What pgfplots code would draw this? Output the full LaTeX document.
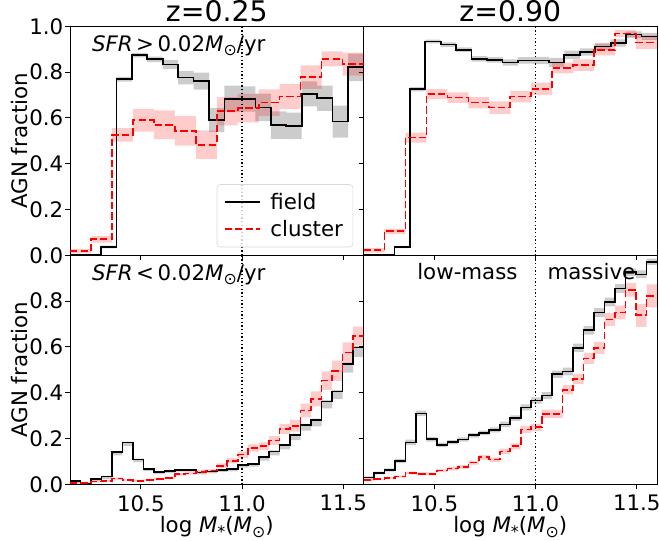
\documentclass[border=0pt]{standalone}
\usepackage{fontspec}
\setmainfont{DejaVu Sans}
\usepackage{pgfplots}
\usepackage{pgfplotstable}
\pgfplotsset{compat=1.18}
\usepgfplotslibrary{fillbetween}

% columns: left bin edge, value, lower error, upper error (last row closes the last bin)
\pgfplotstableread{
x y el eh
10.1500 0.000 0.003 0.003
10.2263 0.000 0.003 0.003
10.3026 0.036 0.006 0.006
10.3789 0.769 0.010 0.010
10.4553 0.874 0.010 0.010
10.5316 0.856 0.012 0.012
10.6079 0.834 0.020 0.020
10.6842 0.776 0.030 0.030
10.7605 0.761 0.037 0.037
10.8368 0.591 0.053 0.053
10.9132 0.683 0.058 0.058
10.9895 0.683 0.055 0.055
11.0658 0.646 0.060 0.060
11.1421 0.569 0.060 0.060
11.2184 0.565 0.058 0.058
11.2947 0.705 0.055 0.055
11.3711 0.686 0.055 0.055
11.4474 0.584 0.070 0.070
11.5237 0.821 0.060 0.060
11.6000 0.821 0.060 0.060
}\tlb
\pgfplotstableread{
x y el eh
10.1500 0.018 0.010 0.010
10.2536 0.070 0.015 0.015
10.3571 0.526 0.030 0.030
10.4607 0.590 0.050 0.050
10.5643 0.570 0.063 0.063
10.6679 0.544 0.065 0.065
10.7714 0.483 0.063 0.063
10.8750 0.630 0.062 0.062
10.9786 0.643 0.062 0.062
11.0821 0.667 0.058 0.058
11.1857 0.693 0.055 0.055
11.2893 0.778 0.051 0.051
11.3929 0.858 0.033 0.033
11.4964 0.835 0.050 0.050
11.6000 0.835 0.050 0.050
}\tlr
\pgfplotstableread{
x y el eh
10.1500 0.000 0.003 0.003
10.2263 0.000 0.003 0.003
10.3026 0.036 0.005 0.005
10.3789 0.726 0.010 0.010
10.4553 0.934 0.008 0.008
10.5316 0.920 0.010 0.010
10.6079 0.898 0.010 0.010
10.6842 0.858 0.012 0.012
10.7605 0.854 0.012 0.012
10.8368 0.842 0.014 0.014
10.9132 0.851 0.014 0.014
10.9895 0.851 0.016 0.016
11.0658 0.842 0.020 0.020
11.1421 0.876 0.018 0.018
11.2184 0.888 0.016 0.016
11.2947 0.912 0.016 0.016
11.3711 0.927 0.016 0.016
11.4474 0.964 0.014 0.014
11.5237 0.956 0.015 0.015
11.6000 0.956 0.015 0.015
}\trb
\pgfplotstableread{
x y el eh
10.1500 0.022 0.010 0.010
10.2536 0.105 0.012 0.012
10.3571 0.514 0.022 0.022
10.4607 0.705 0.022 0.022
10.5643 0.689 0.023 0.023
10.6679 0.667 0.025 0.025
10.7714 0.645 0.027 0.027
10.8750 0.693 0.025 0.025
10.9786 0.727 0.027 0.027
11.0821 0.818 0.023 0.023
11.1857 0.831 0.025 0.025
11.2893 0.898 0.025 0.025
11.3929 0.968 0.015 0.015
11.4964 0.930 0.030 0.030
11.6000 0.930 0.030 0.030
}\trr
\pgfplotstableread{
x y el eh
10.1500 0.015 0.006 0.003
10.2018 0.004 0.004 0.003
10.2536 0.023 0.008 0.003
10.3054 0.034 0.010 0.003
10.3571 0.140 0.014 0.004
10.4089 0.182 0.015 0.004
10.4607 0.109 0.012 0.003
10.5125 0.067 0.009 0.003
10.5643 0.053 0.008 0.003
10.6161 0.058 0.008 0.003
10.6679 0.063 0.008 0.003
10.7196 0.063 0.008 0.003
10.7714 0.052 0.008 0.003
10.8232 0.056 0.008 0.003
10.8750 0.063 0.009 0.003
10.9268 0.067 0.010 0.003
10.9786 0.084 0.011 0.003
11.0304 0.089 0.012 0.003
11.0821 0.118 0.015 0.004
11.1339 0.144 0.017 0.004
11.1857 0.172 0.019 0.004
11.2375 0.215 0.022 0.005
11.2893 0.259 0.025 0.005
11.3411 0.281 0.028 0.006
11.3929 0.362 0.030 0.006
11.4446 0.406 0.033 0.007
11.4964 0.525 0.037 0.008
11.5482 0.598 0.042 0.008
11.6000 0.598 0.042 0.008
}\blb
\pgfplotstableread{
x y el eh
10.1500 0.007 0.003 0.003
10.2018 0.006 0.003 0.003
10.2536 0.012 0.004 0.004
10.3054 0.015 0.004 0.004
10.3571 0.025 0.005 0.005
10.4089 0.018 0.004 0.004
10.4607 0.016 0.004 0.004
10.5125 0.020 0.004 0.004
10.5643 0.023 0.005 0.005
10.6161 0.029 0.005 0.005
10.6679 0.044 0.006 0.006
10.7196 0.048 0.006 0.006
10.7714 0.055 0.007 0.007
10.8232 0.060 0.008 0.008
10.8750 0.081 0.010 0.010
10.9268 0.103 0.012 0.012
10.9786 0.130 0.014 0.014
11.0304 0.159 0.016 0.016
11.0821 0.166 0.017 0.017
11.1339 0.191 0.019 0.019
11.1857 0.242 0.022 0.022
11.2375 0.256 0.026 0.026
11.2893 0.322 0.030 0.030
11.3411 0.373 0.033 0.033
11.3929 0.453 0.040 0.040
11.4446 0.496 0.044 0.044
11.4964 0.576 0.044 0.044
11.5482 0.649 0.040 0.040
11.6000 0.649 0.040 0.040
}\blr
\pgfplotstableread{
x y el eh
10.1500 0.030 0.005 0.005
10.2018 0.050 0.006 0.006
10.2536 0.063 0.007 0.007
10.3054 0.102 0.009 0.009
10.3571 0.183 0.012 0.012
10.4089 0.310 0.012 0.012
10.4607 0.197 0.010 0.010
10.5125 0.173 0.009 0.009
10.5643 0.184 0.009 0.009
10.6161 0.196 0.009 0.009
10.6679 0.214 0.010 0.010
10.7196 0.225 0.010 0.010
10.7714 0.238 0.011 0.011
10.8232 0.262 0.012 0.012
10.8750 0.289 0.012 0.012
10.9268 0.336 0.013 0.013
10.9786 0.366 0.014 0.014
11.0304 0.388 0.015 0.015
11.0821 0.481 0.016 0.016
11.1339 0.493 0.017 0.017
11.1857 0.596 0.018 0.018
11.2375 0.673 0.019 0.019
11.2893 0.750 0.019 0.019
11.3411 0.796 0.019 0.019
11.3929 0.855 0.019 0.019
11.4446 0.926 0.016 0.016
11.4964 0.917 0.017 0.017
11.5482 0.972 0.014 0.014
11.6000 0.972 0.014 0.014
}\brb
\pgfplotstableread{
x y el eh
10.1500 0.019 0.004 0.004
10.2018 0.022 0.004 0.004
10.2536 0.028 0.005 0.005
10.3054 0.034 0.005 0.005
10.3571 0.050 0.006 0.006
10.4089 0.046 0.006 0.006
10.4607 0.045 0.006 0.006
10.5125 0.060 0.007 0.007
10.5643 0.069 0.008 0.008
10.6161 0.077 0.008 0.008
10.6679 0.095 0.009 0.009
10.7196 0.118 0.010 0.010
10.7714 0.108 0.010 0.010
10.8232 0.144 0.012 0.012
10.8750 0.166 0.013 0.013
10.9268 0.240 0.015 0.015
10.9786 0.249 0.016 0.016
11.0304 0.308 0.018 0.018
11.0821 0.308 0.018 0.018
11.1339 0.413 0.020 0.020
11.1857 0.460 0.022 0.022
11.2375 0.550 0.024 0.024
11.2893 0.596 0.026 0.026
11.3411 0.720 0.028 0.028
11.3929 0.750 0.030 0.030
11.4446 0.850 0.030 0.030
11.4964 0.738 0.050 0.050
11.5482 0.823 0.050 0.050
11.6000 0.823 0.050 0.050
}\brr

\newcommand{\drawpanel}[2]{%
  \addplot[draw=none, forget plot, const plot, name path=bu] table[x=x, y expr=\thisrow{y}+\thisrow{eh}] {#1};
  \addplot[draw=none, forget plot, const plot, name path=bd] table[x=x, y expr=\thisrow{y}-\thisrow{el}] {#1};
  \addplot[draw=none, fill=black, fill opacity=0.2, forget plot] fill between[of=bu and bd];
  \addplot[draw=none, forget plot, const plot, name path=ru] table[x=x, y expr=\thisrow{y}+\thisrow{eh}] {#2};
  \addplot[draw=none, forget plot, const plot, name path=rd] table[x=x, y expr=\thisrow{y}-\thisrow{el}] {#2};
  \addplot[draw=none, fill=red, fill opacity=0.2, forget plot] fill between[of=ru and rd];
  \addplot[forget plot, black, line width=0.8pt, dash pattern=on 0.8pt off 1.4pt] coordinates {(11,0) (11,1)};
  \addplot[black, line width=1pt, const plot, mark=none] table[x=x, y=y] {#1};
  \addplot[red, line width=1pt, const plot, mark=none, dash pattern=on 4.4pt off 1.9pt] table[x=x, y=y] {#2};
}
\newcommand{\msun}{\textit{M}\raisebox{-0.4ex}{\fontsize{9.5}{10}\selectfont ⊙}}
\newcommand{\fs}{\fontsize{12.8}{15}\selectfont}

\begin{document}
\begin{tikzpicture}
\pgfplotsset{
  panel/.style={
    scale only axis, width=176.1pt, height=137.4pt,
    xmin=10.15, xmax=11.6, ymin=0, ymax=1,
    axis line style={line width=0.6pt},
    tick align=outside, tick pos=left,
    major tick length=3pt,
    tick style={line width=0.6pt, black},
    xtick={10.5,11,11.5},
    font=\fs,
    tick label style={font=\fs},
    /pgf/number format/assume math mode=true,
    xticklabel style={/pgf/number format/.cd, fixed, fixed zerofill, precision=1},
    yticklabel style={xshift=2.5pt, /pgf/number format/.cd, fixed, fixed zerofill, precision=1},
    ylabel style={font=\fs},
    xlabel style={font=\fs},
    ylabel shift=-6pt,
    xlabel shift=-4pt,
    clip=true,
  },
}
% top left
\begin{axis}[panel, name=tl, at={(0pt,137.4pt)}, anchor=south west,
  ytick={0,0.2,0.4,0.6,0.8,1}, xticklabels={},
  ylabel={AGN fraction},
  legend style={at={(rel axis cs:0.965,0.035)}, anchor=south east,
    draw=black!15, rounded corners=2pt, fill=white, fill opacity=0.8, text opacity=1,
    font=\fs, inner xsep=4pt, inner ysep=3pt, row sep=1pt,
    /tikz/every odd column/.append style={column sep=4pt}},
  legend cell align=left,
  legend image code/.code={\draw[#1] (0pt,0pt) -- (21pt,0pt);}]
\drawpanel{\tlb}{\tlr}
\addlegendentry{field}
\addlegendentry{cluster}
\node[anchor=west] at (rel axis cs:0.055,0.915) {\textit{SFR}\,>\,0.02\msun/yr};
\end{axis}
% top right
\begin{axis}[panel, name=tr, at={(176.1pt,137.4pt)}, anchor=south west,
  ytick={0,0.2,0.4,0.6,0.8,1}, xticklabels={}, yticklabels={}]
\drawpanel{\trb}{\trr}
\end{axis}
% bottom left
\begin{axis}[panel, name=bl, at={(0pt,0pt)}, anchor=south west,
  ytick={0,0.2,0.4,0.6,0.8}, ylabel={AGN fraction},
  xlabel={log \textit{M}\raisebox{-0.4ex}{\fontsize{9.5}{10}\selectfont *}(\msun)}]
\drawpanel{\blb}{\blr}
\node[anchor=west] at (rel axis cs:0.055,0.915) {\textit{SFR}\,<\,0.02\msun/yr};
\end{axis}
% bottom right
\begin{axis}[panel, name=br, at={(176.1pt,0pt)}, anchor=south west,
  ytick={0,0.2,0.4,0.6,0.8}, yticklabels={},
  xlabel={log \textit{M}\raisebox{-0.4ex}{\fontsize{9.5}{10}\selectfont *}(\msun)}]
\drawpanel{\brb}{\brr}
\node[anchor=east] at (axis cs:10.94,0.93) {low-mass};
\node[anchor=west] at (axis cs:11.03,0.93) {massive};
\end{axis}
\node[anchor=base, font=\fontsize{17}{20}\selectfont] at ([yshift=2.6pt]tl.north) {z=0.25};
\node[anchor=base, font=\fontsize{17}{20}\selectfont] at ([yshift=2.6pt]tr.north) {z=0.90};
\pgfresetboundingbox
\path[use as bounding box] (-42pt,-33.4pt) rectangle (353.4pt,290.6pt);
\end{tikzpicture}
\end{document}
